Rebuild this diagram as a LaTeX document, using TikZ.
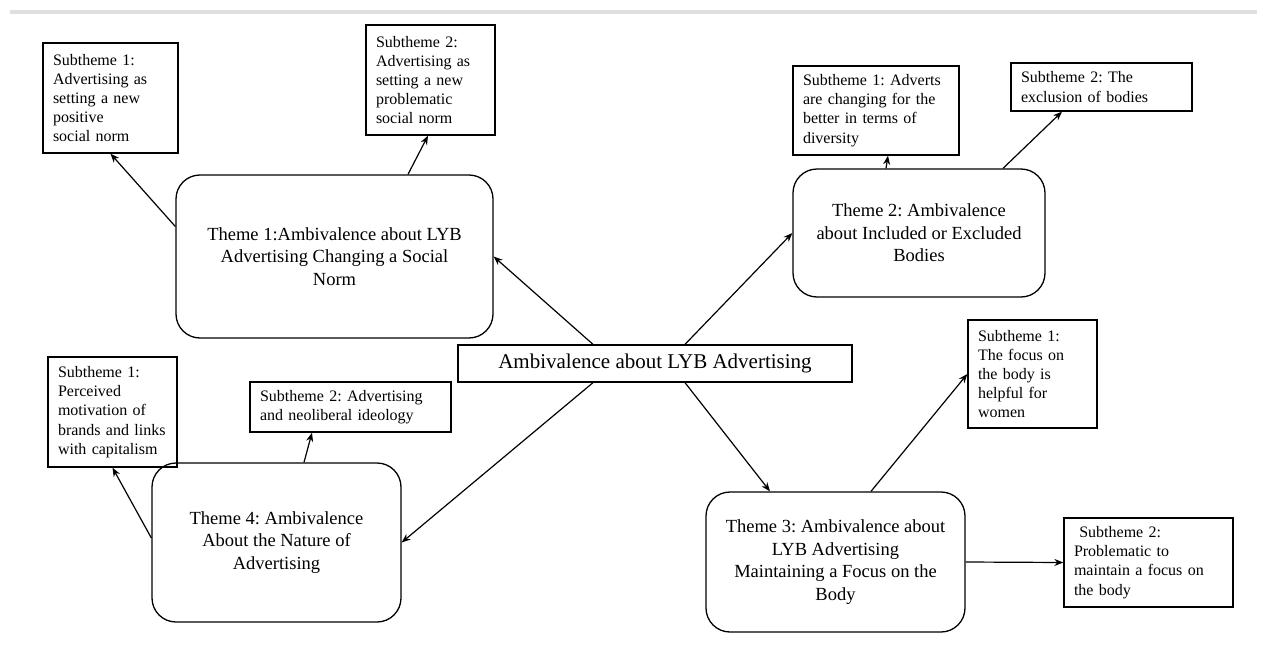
\documentclass[tikz,border=0pt]{standalone}
\usepackage{fontspec}
\setmainfont{Liberation Serif}
\usetikzlibrary{arrows.meta}
\frenchspacing

\begin{document}
\begin{tikzpicture}[x=1pt, y=-1pt,
    sub/.style={draw, line width=1.3pt, inner xsep=10pt, inner ysep=0pt, align=left,
        font=\fontsize{16}{19.2}\selectfont},
    theme/.style={draw, line width=1.3pt, rounded corners=24pt, align=center,
        font=\fontsize{18.5}{22.5}\selectfont},
    link/.style={line width=1.2pt, -{Stealth[length=9pt, width=7pt]}}]
    \useasboundingbox (0, 0) rectangle (1267, 653);
    \draw[gray!25, line width=4pt] (10, 12) -- (1257, 12);

    \node[draw, line width=1.3pt, minimum width=394pt, minimum height=37pt,
        font=\fontsize{21}{25}\selectfont] (hub) at (655, 363.5) {Ambivalence about LYB Advertising};

    \node[theme, minimum width=317pt, minimum height=163pt] (theme1) at (334.5, 256.5)
        {Theme 1:Ambivalence about LYB\\Advertising Changing a Social\\Norm};
    \node[theme, minimum width=252pt, minimum height=128pt] (theme2) at (919, 233)
        {Theme 2: Ambivalence\\about Included or Excluded\\Bodies};
    \node[theme, minimum width=259pt, minimum height=140pt] (theme3) at (835.5, 562)
        {Theme 3: Ambivalence about\\LYB Advertising\\Maintaining a Focus on the\\Body};
    \node[theme, minimum width=249pt, minimum height=159pt] (theme4) at (276.5, 542.5)
        {Theme 4: Ambivalence\\About the Nature of\\Advertising};

    \node[sub, text width=115pt, minimum height=110pt] (sub11) at (110.5, 98)
        {Subtheme 1:\\Advertising as\\setting a new\\positive\\social norm};
    \node[sub, text width=109pt, minimum height=110pt] (sub12) at (430.5, 80)
        {Subtheme 2:\\Advertising as\\setting a new\\problematic\\social norm};
    \node[sub, text width=146pt, minimum height=89pt] (sub21) at (876, 110.5)
        {Subtheme 1: Adverts\\are changing for the\\better in terms of\\diversity};
    \node[sub, text width=161pt, minimum height=48pt] (sub22) at (1101.5, 87)
        {Subtheme 2: The\\exclusion of bodies};
    \node[sub, text width=109pt, minimum height=108pt] (sub31) at (1032.5, 374)
        {Subtheme 1:\\The focus on\\the body is\\helpful for\\women};
    \node[sub, text width=149pt, minimum height=89pt] (sub32) at (1148.5, 562.5)
        {\ Subtheme 2:\\Problematic to\\maintain a focus on\\the body};
    \node[sub, text width=109pt, minimum height=110pt] (sub41) at (112.5, 412)
        {Subtheme 1:\\Perceived\\motivation of\\brands and links\\with capitalism};
    \node[sub, text width=181pt, minimum height=50pt] (sub42) at (350.5, 407)
        {Subtheme 2: Advertising\\and neoliberal ideology};

    \draw[link] ([xshift=-62pt]hub.north) -- (theme1.east);
    \draw[link] ([xshift=30pt]hub.north) -- (theme2.west);
    \draw[link] ([xshift=30pt]hub.south) -- ([xshift=-65.5pt]theme3.north);
    \draw[link] ([xshift=-62pt]hub.south) -- (theme4.east);

    \draw[link] ([yshift=30pt]theme1.west) -- (sub11.south);
    \draw[link] ([xshift=73.5pt]theme1.north) -- ([xshift=-2.5pt]sub12.south);
    \draw[link] ([xshift=-33pt]theme2.north) -- ([xshift=12pt]sub21.south);
    \draw[link] ([xshift=84pt]theme2.north) -- ([xshift=-39.5pt]sub22.south);
    \draw[link] ([xshift=35.5pt]theme3.north) -- (sub31.west);
    \draw[link] (theme3.east) -- (sub32.west);
    \draw[link] ([yshift=4.5pt]theme4.west) -- (sub41.south);
    \draw[link] ([xshift=27.5pt]theme4.north) -- ([xshift=-38.5pt]sub42.south);
\end{tikzpicture}
\end{document}
